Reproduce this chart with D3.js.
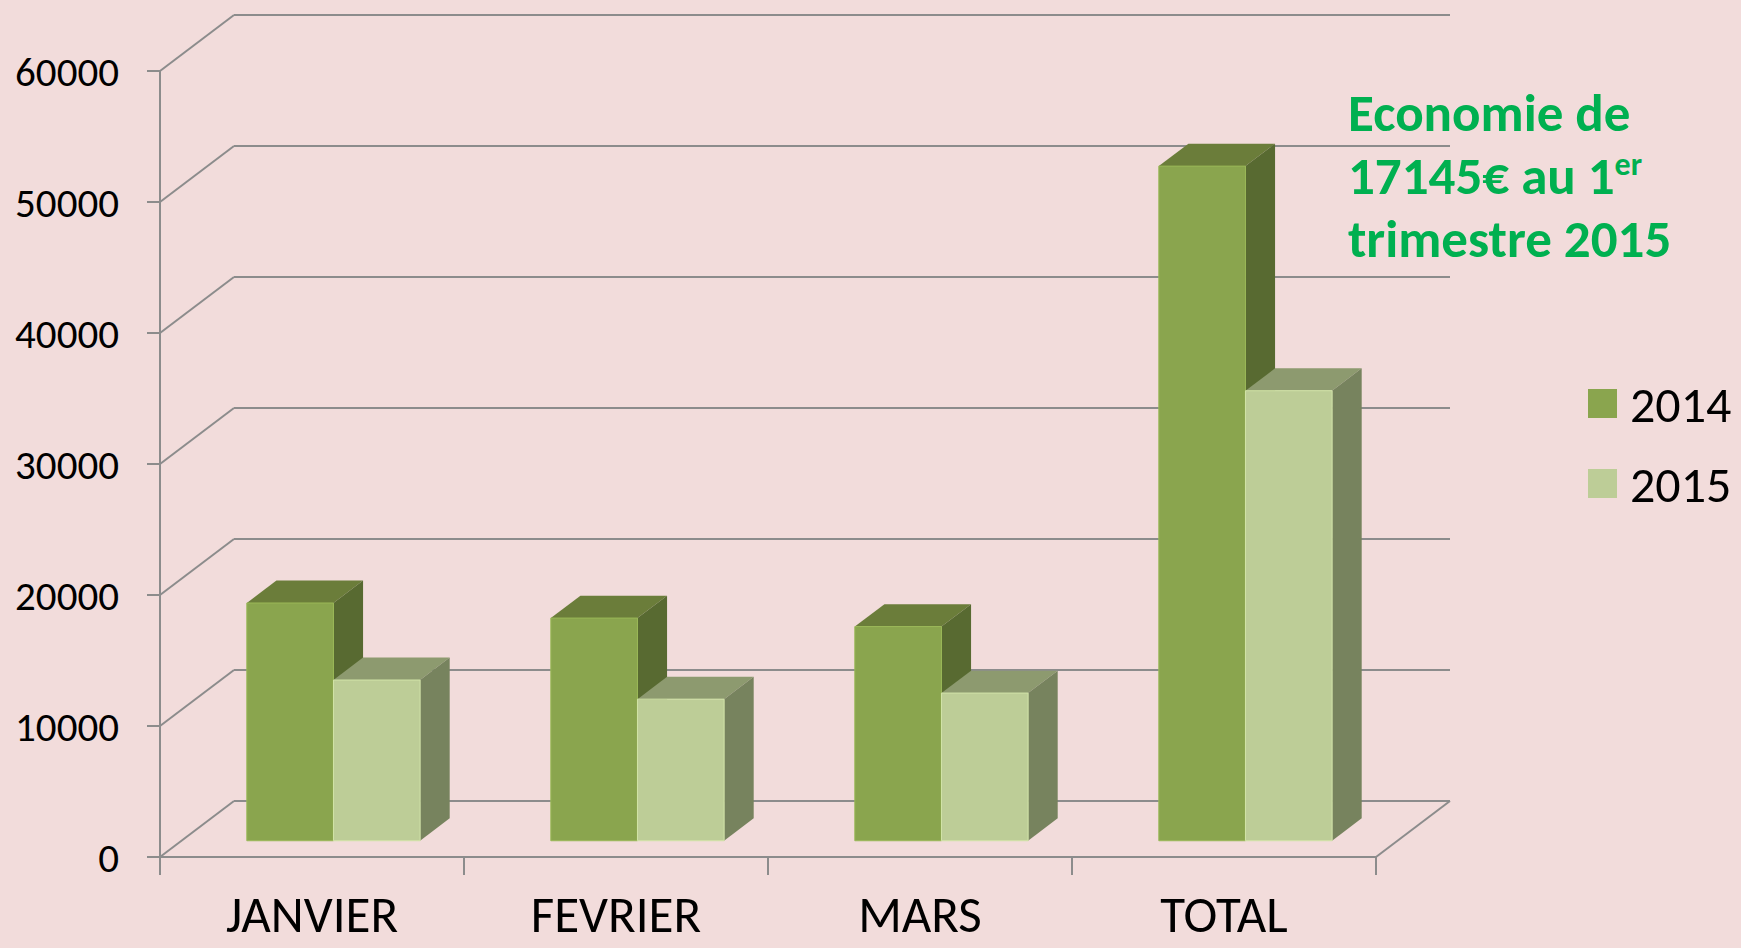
<!DOCTYPE html>
<html>
<head>
<meta charset="utf-8">
<script src="https://cdn.jsdelivr.net/npm/d3@7"></script>
<style>
  body { margin: 0; background: #F2DCDB; }
  svg { display: block; }
  text { font-family: Carlito, Lato, sans-serif; }
</style>
</head>
<body>
<svg></svg>
<script>
// data
let categories = ['JANVIER', 'FEVRIER', 'MARS', 'TOTAL']
let seriesNames = ['2014', '2015']
let values2014 = [18150, 17000, 16350, 51500]
let values2015 = [12270, 10810, 11275, 34355]
let yTicks = [0, 10000, 20000, 30000, 40000, 50000, 60000]
let noteLines = ['Economie de', '17145€ au 1', 'trimestre 2015']

let width = 1741
let height = 948

// front plane of the box and the depth offset of the back wall
let plotLeft = 160
let plotRight = 1376
let plotBottom = 857
let plotTop = 71
let depthX = 74
let depthY = 56
// bars sit between these depth fractions
let barFront = 0.29
let barBack = 0.69

let gridColor = '#8C8C8C'
// front, top, side shading per series
let colors = {
    '2014': ['#8AA54E', '#6B7D3A', '#586A31'],
    '2015': ['#BDCD97', '#8D9A6F', '#77835E']
}

let svg = d3.select('svg')
    .attr('width', width)
    .attr('height', height)

svg.append('rect')
    .attr('width', width)
    .attr('height', height)
    .attr('fill', '#F2DCDB')

let yScale = d3.scaleLinear()
    .domain([0, 60000])
    .range([plotBottom, plotTop])

let xScale = d3.scaleBand()
    .domain(categories)
    .range([plotLeft, plotRight])
    .paddingInner(0.43)
    .paddingOuter(0.215)

// move a front plane point back by depth d
let toBack = (x, y, d) => [x + d * depthX, y - d * depthY]

let grid = svg.append('g')
    .attr('stroke', gridColor)
    .attr('stroke-width', 2)
    .attr('fill', 'none')

// back wall lines + left wall diagonals
yTicks.forEach((v) => {
    let y = yScale(v)
    let p = toBack(plotLeft, y, 1)
    let q = toBack(plotRight, y, 1)
    grid.append('line')
        .attr('x1', p[0]).attr('y1', p[1])
        .attr('x2', q[0]).attr('y2', q[1])
    grid.append('line')
        .attr('x1', plotLeft).attr('y1', y)
        .attr('x2', p[0]).attr('y2', p[1])
    // tick on the value axis
    grid.append('line')
        .attr('x1', plotLeft - 13).attr('y1', y)
        .attr('x2', plotLeft).attr('y2', y)
})

// value axis
grid.append('line')
    .attr('x1', plotLeft).attr('y1', yScale(0))
    .attr('x2', plotLeft).attr('y2', yScale(60000))

// floor front edge and right edge
let floorY = yScale(0)
let corner = toBack(plotRight, floorY, 1)
grid.append('line')
    .attr('x1', plotLeft).attr('y1', floorY)
    .attr('x2', plotRight).attr('y2', floorY)
grid.append('line')
    .attr('x1', plotRight).attr('y1', floorY)
    .attr('x2', corner[0]).attr('y2', corner[1])

// category ticks sit between the bands
d3.range(categories.length + 1).forEach((i) => {
    let x = plotLeft + i * xScale.step()
    grid.append('line')
        .attr('x1', x).attr('y1', floorY)
        .attr('x2', x).attr('y2', floorY + 18)
})

// 3d bars
let barWidth = xScale.bandwidth() / 2
let drawBar = (x0, value, name) => {
    let x1 = x0 + barWidth
    let yTop = yScale(value)
    let y0 = yScale(0)
    let c = colors[name]
    let pts = (arr) => arr.map((p) => p.join(',')).join(' ')

    let fl = toBack(x0, y0, barFront), fr = toBack(x1, y0, barFront)
    let tl = toBack(x0, yTop, barFront), tr = toBack(x1, yTop, barFront)
    let btl = toBack(x0, yTop, barBack), btr = toBack(x1, yTop, barBack)
    let bbr = toBack(x1, y0, barBack)

    let g = svg.append('g').attr('class', 'bar')
    g.append('polygon')
        .attr('points', pts([tl, tr, btr, btl]))
        .attr('fill', c[1])
    g.append('polygon')
        .attr('points', pts([tr, fr, bbr, btr]))
        .attr('fill', c[2])
    g.append('polygon')
        .attr('points', pts([tl, tr, fr, fl]))
        .attr('fill', c[0])
        .attr('stroke', d3.color(c[0]).brighter(0.3))
        .attr('stroke-width', 1)
}

categories.forEach((cat, i) => {
    let x = xScale(cat)
    drawBar(x, values2014[i], '2014')
    drawBar(x + barWidth, values2015[i], '2015')
})

// value labels
svg.append('g')
    .selectAll('text')
    .data(yTicks)
    .enter()
    .append('text')
    .attr('x', 119)
    .attr('y', (d) => yScale(d) + 15)
    .attr('text-anchor', 'end')
    .attr('font-size', 41)
    .attr('fill', '#000')
    .text((d) => d)

// category labels
svg.append('g')
    .selectAll('text')
    .data(categories)
    .enter()
    .append('text')
    .attr('x', (d) => xScale(d) + xScale.bandwidth() / 2)
    .attr('y', 932)
    .attr('text-anchor', 'middle')
    .attr('font-size', 51)
    .attr('fill', '#000')
    .text((d) => d)

// legend
let legend = svg.append('g')
seriesNames.forEach((name, i) => {
    let y = 389 + i * 80
    legend.append('rect')
        .attr('x', 1588)
        .attr('y', y)
        .attr('width', 29)
        .attr('height', 29)
        .attr('fill', colors[name][0])
    legend.append('text')
        .attr('x', 1630)
        .attr('y', y + 33)
        .attr('font-size', 50)
        .attr('fill', '#000')
        .text(name)
})

// note in green
let note = svg.append('text')
    .attr('font-size', 53)
    .attr('font-weight', 'bold')
    .attr('fill', '#00B050')
noteLines.forEach((line, i) => {
    note.append('tspan')
        .attr('x', 1348)
        .attr('y', 131 + i * 63)
        .text(line)
    if (i === 1) {
        note.append('tspan')
            .attr('dy', -19)
            .attr('font-size', 32)
            .text('er')
    }
})
</script>
</body>
</html>
